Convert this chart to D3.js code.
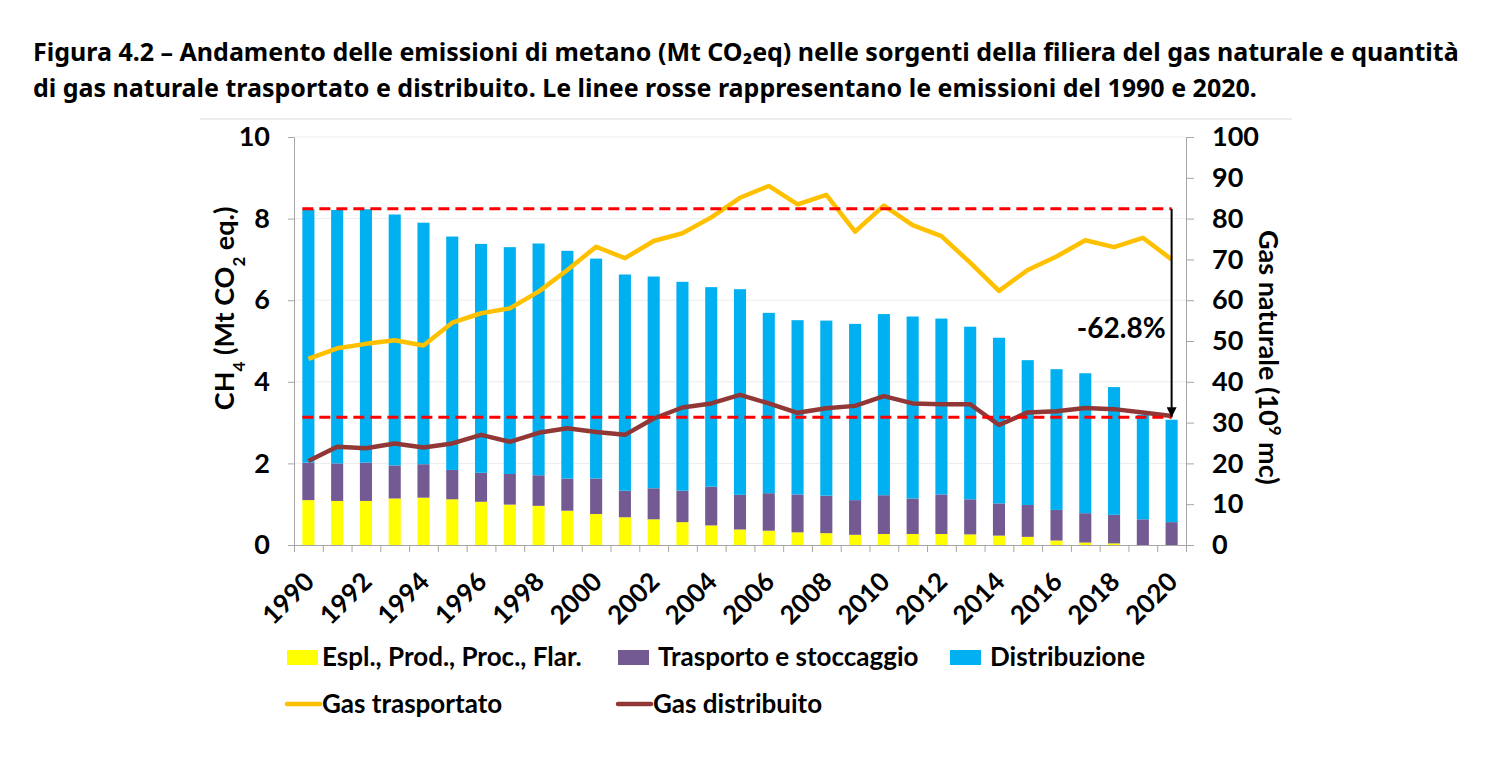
<!DOCTYPE html>
<html>
<head>
<meta charset="utf-8">
<script src="https://cdn.jsdelivr.net/npm/d3@7"></script>
<style>
  body { margin: 0; background: #fff; }
  text { font-family: Lato, "Open Sans", sans-serif; }
</style>
</head>
<body>
<div id="chart"></div>
<script>
// Data
const years = d3.range(1990, 2021);
const espl = [1.10,1.08,1.08,1.14,1.16,1.12,1.06,0.99,0.96,0.84,0.76,0.68,0.63,0.56,0.48,0.38,0.35,0.31,0.29,0.25,0.27,0.27,0.27,0.26,0.23,0.20,0.11,0.06,0.04,0.00,0.00];
const trasporto = [0.92,0.92,0.94,0.81,0.82,0.72,0.71,0.75,0.75,0.79,0.87,0.65,0.76,0.77,0.95,0.85,0.92,0.93,0.92,0.85,0.95,0.87,0.97,0.86,0.79,0.78,0.75,0.72,0.70,0.63,0.56];
const distribuzione = [6.21,6.21,6.21,6.15,5.92,5.72,5.61,5.56,5.68,5.58,5.39,5.30,5.19,5.12,4.89,5.04,4.42,4.27,4.29,4.32,4.44,4.46,4.31,4.23,4.06,3.55,3.45,3.43,3.13,2.56,2.51];
const gasTrasportato = [45.6,48.2,49.3,50.2,48.9,54.5,56.8,58.0,62.1,67.4,73.1,70.3,74.5,76.4,80.3,85.1,88.0,83.5,85.8,76.8,83.2,78.4,75.7,69.2,62.3,67.4,70.7,74.7,73.0,75.3,70.0];
const gasDistribuito = [20.6,24.1,23.7,24.9,23.9,24.9,27.0,25.3,27.5,28.6,27.7,27.0,31.0,33.7,34.7,36.8,34.7,32.4,33.5,34.1,36.5,34.7,34.5,34.5,29.4,32.5,32.8,33.6,33.3,32.5,31.6];
const refLines = [8.24, 3.13];   // emissioni 1990 e 2020 (linee rosse)
const reduction = "-62.8%";
const leftTicks = [0, 2, 4, 6, 8, 10];
const rightTicks = d3.range(0, 101, 10);

const seriesNames = ["Espl., Prod., Proc., Flar.", "Trasporto e stoccaggio", "Distribuzione"];
const seriesColors = ["#FFFF00", "#735A92", "#00B0F0"];
const lineNames = ["Gas trasportato", "Gas distribuito"];
const lineColors = ["#FFC000", "#913837"];

const W = 1500, H = 764;
const margin = {top: 137, right: 314, bottom: 219, left: 294};
const width = W - margin.left - margin.right;
const height = H - margin.top - margin.bottom;

const svg = d3.select("#chart").append("svg")
    .attr("width", W).attr("height", H);

// Title
const title = svg.append("text")
    .style("font-family", "'Noto Sans', 'Open Sans', sans-serif")
    .style("font-weight", "bold").style("font-size", "25px");
title.append("tspan").attr("x", 33).attr("y", 61)
    .text("Figura 4.2 \u2013 Andamento delle emissioni di metano (Mt CO\u2082eq) nelle sorgenti della filiera del gas naturale e quantità");
title.append("tspan").attr("x", 33).attr("y", 97)
    .text("di gas naturale trasportato e distribuito. Le linee rosse rappresentano le emissioni del 1990 e 2020.");

// thin frame line under the title
svg.append("line")
    .attr("x1", 200).attr("x2", 1292).attr("y1", 119).attr("y2", 119)
    .attr("stroke", "#d9d9d9").attr("stroke-width", 1);

const g = svg.append("g").attr("transform", `translate(${margin.left},${margin.top})`);

// Scales
const x = d3.scaleBand().domain(years).range([0, width]).paddingInner(0.58).paddingOuter(0.29);
const xIdx = d3.scaleLinear().domain([0, years.length]).range([0, width]);
const y = d3.scaleLinear().domain([0, 10]).range([height, 0]);
const y2 = d3.scaleLinear().domain([0, 100]).range([height, 0]);

// Gridlines
g.append("g").selectAll("line")
    .data(leftTicks.slice(1))
    .join("line")
    .attr("x1", 0).attr("x2", width)
    .attr("y1", d => y(d)).attr("y2", d => y(d))
    .attr("stroke", "#ececec").attr("stroke-width", 1);

// Stacked bars
const rows = years.map((yr, i) => ({year: yr, s0: espl[i], s1: trasporto[i], s2: distribuzione[i]}));
const stack = d3.stack().keys(["s0", "s1", "s2"])(rows);
g.append("g").selectAll("g")
    .data(stack)
    .join("g")
    .attr("fill", (d, i) => seriesColors[i])
    .selectAll("rect")
    .data(d => d)
    .join("rect")
    .attr("x", d => x(d.data.year))
    .attr("width", x.bandwidth())
    .attr("y", d => y(d[1]))
    .attr("height", d => y(d[0]) - y(d[1]));

// Lines (right axis)
const cx = d => x(d) + x.bandwidth() / 2;
[gasTrasportato, gasDistribuito].forEach((vals, k) => {
    g.append("path")
        .datum(vals)
        .attr("fill", "none")
        .attr("stroke", lineColors[k])
        .attr("stroke-width", 4.5)
        .attr("stroke-linejoin", "round")
        .attr("d", d3.line().x((v, i) => cx(years[i])).y(v => y2(v)));
});

// Red dashed reference lines
g.append("g").selectAll("line")
    .data(refLines)
    .join("line")
    .attr("x1", x(years[0])).attr("x2", cx(years[years.length - 1]))
    .attr("y1", d => y(d)).attr("y2", d => y(d))
    .attr("stroke", "#FF0000").attr("stroke-width", 3)
    .attr("stroke-dasharray", "11,6");

// Arrow
svg.append("defs").append("marker")
    .attr("id", "arrow").attr("viewBox", "0 0 10 10")
    .attr("refX", 10).attr("refY", 5)
    .attr("markerWidth", 5).attr("markerHeight", 5)
    .attr("markerUnits", "strokeWidth")
    .attr("orient", "auto")
    .append("path").attr("d", "M0,0 L10,5 L0,10 z").attr("fill", "#000");

const ax = cx(years[years.length - 1]);
g.append("line")
    .attr("x1", ax).attr("x2", ax)
    .attr("y1", y(refLines[0])).attr("y2", y(refLines[1]))
    .attr("stroke", "#000").attr("stroke-width", 2)
    .attr("marker-end", "url(#arrow)");

g.append("text")
    .attr("x", ax - 6).attr("y", y(5.07))
    .attr("text-anchor", "end")
    .style("font-weight", "bold").style("font-size", "28px")
    .text(reduction);

// Left axis
const yAxis = g.append("g")
    .call(d3.axisLeft(y).tickValues(leftTicks).tickSize(6).tickPadding(18));
yAxis.select(".domain").attr("stroke", "#a6a6a6");
yAxis.selectAll(".tick line").attr("stroke", "#a6a6a6");
yAxis.selectAll(".tick text").style("font-size", "27px").style("font-weight", "bold")
    .attr("fill", "#000").style("font-family", "Lato, sans-serif");

// Right axis
const y2Axis = g.append("g").attr("transform", `translate(${width},0)`)
    .call(d3.axisRight(y2).tickValues(rightTicks).tickSize(8).tickPadding(18));
y2Axis.select(".domain").attr("stroke", "#a6a6a6");
y2Axis.selectAll(".tick line").attr("stroke", "#a6a6a6");
y2Axis.selectAll(".tick text").style("font-size", "27px").style("font-weight", "bold")
    .attr("fill", "#000").style("font-family", "Lato, sans-serif");

// Bottom axis: tick marks at category boundaries
const xAxis = g.append("g").attr("transform", `translate(0,${height})`)
    .call(d3.axisBottom(xIdx).tickValues(d3.range(0, years.length + 1)).tickSize(7).tickFormat(""));
xAxis.select(".domain").attr("stroke", "#a6a6a6");
xAxis.selectAll(".tick line").attr("stroke", "#a6a6a6");

// Year labels (every other year)
g.append("g").selectAll("text")
    .data(years.filter(d => d % 2 === 0))
    .join("text")
    .attr("transform", d => `translate(${cx(d) + 1},${height + 32}) rotate(-45)`)
    .attr("text-anchor", "end")
    .attr("dy", "0.35em")
    .style("font-size", "26px").style("font-weight", "bold")
    .text(d => d);

// Axis titles
const yl = g.append("text")
    .attr("transform", `translate(-60,${y(5.8)}) rotate(-90)`)
    .attr("text-anchor", "middle")
    .style("font-size", "27px").style("font-weight", "bold");
yl.append("tspan").text("CH");
yl.append("tspan").attr("baseline-shift", "sub").style("font-size", "17px").text("4");
yl.append("tspan").text(" (Mt  CO");
yl.append("tspan").attr("baseline-shift", "sub").style("font-size", "17px").text("2");
yl.append("tspan").text(" eq.)");

const yr = g.append("text")
    .attr("transform", `translate(${width + 73},${y(4.6)}) rotate(90)`)
    .attr("text-anchor", "middle")
    .style("font-size", "27px").style("font-weight", "bold");
yr.append("tspan").text("Gas naturale (10");
yr.append("tspan").attr("baseline-shift", "super").style("font-size", "17px").text("9");
yr.append("tspan").text(" mc)");

// Legend
const legend = svg.append("g");
const legX = [287, 618, 950];
seriesNames.forEach((name, i) => {
    legend.append("rect")
        .attr("x", legX[i]).attr("y", 650).attr("width", 31).attr("height", 15)
        .attr("fill", seriesColors[i]);
    legend.append("text")
        .attr("x", legX[i] + (i === 0 ? 35 : 40)).attr("y", 666)
        .style("font-size", "26px").style("font-weight", "bold")
        .text(name);
});
lineNames.forEach((name, i) => {
    legend.append("line")
        .attr("x1", legX[i]).attr("x2", legX[i] + 33)
        .attr("y1", 704).attr("y2", 704)
        .attr("stroke", lineColors[i]).attr("stroke-width", 4.5)
        .attr("stroke-linecap", "round");
    legend.append("text")
        .attr("x", legX[i] + 35).attr("y", 713)
        .style("font-size", "26px").style("font-weight", "bold")
        .text(name);
});
</script>
</body>
</html>
